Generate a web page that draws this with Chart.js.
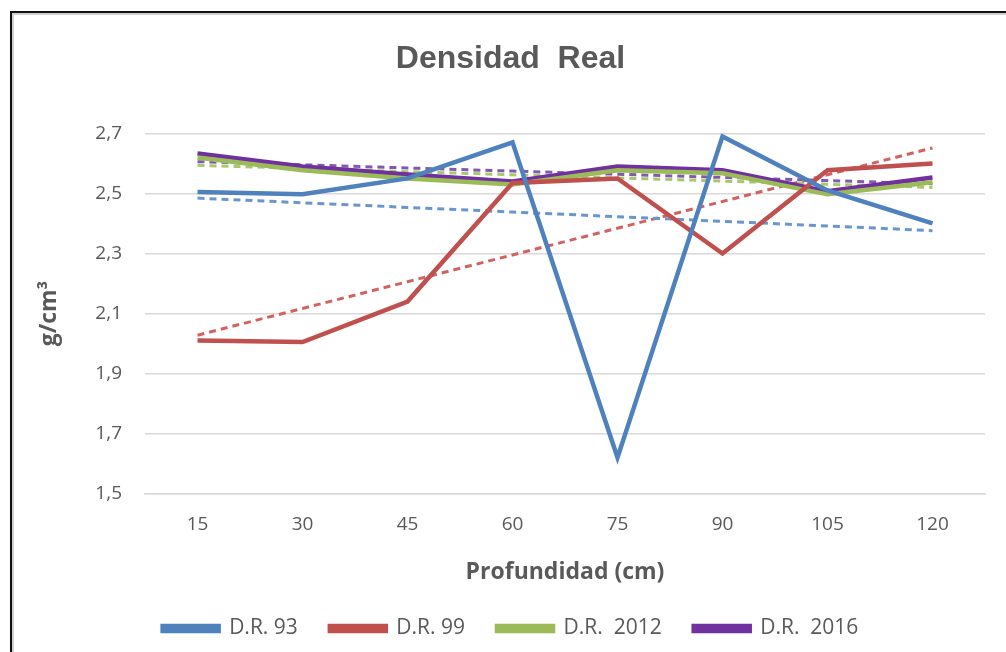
<!DOCTYPE html>
<html><head><meta charset="utf-8">
<script src="https://cdn.jsdelivr.net/npm/chart.js@4"></script>
<style>
html,body{margin:0;padding:0;background:#fff;}
#wrap{position:relative;width:1006px;height:652px;}
</style></head>
<body><div id="wrap"><canvas id="c" width="1006" height="652"></canvas></div>
<script>
const categories = ["15","30","45","60","75","90","105","120"];
const dr93   = [2.505, 2.497, 2.55, 2.67, 1.62, 2.69, 2.51, 2.40];
const dr99   = [2.01, 2.005, 2.14, 2.535, 2.55, 2.30, 2.577, 2.60];
const dr2012 = [2.62, 2.577, 2.55, 2.53, 2.577, 2.567, 2.497, 2.537];
const dr2016 = [2.633, 2.59, 2.563, 2.54, 2.59, 2.577, 2.507, 2.553];
const seriesNames = ["D.R. 93", "D.R. 99", "D.R.  2012", "D.R.  2016"];
const yTicks = [1.5, 1.7, 1.9, 2.1, 2.3, 2.5, 2.7];

const colors = ["#4F81BD", "#C0504D", "#9BBB59", "#7030A0"];
const trendColors = ["#6A96CF", "#D2625F", "#A8C86B", "#8558B0"];

function linTrend(arr){
  const n = arr.length;
  let sx=0, sy=0, sxx=0, sxy=0;
  arr.forEach((v,i)=>{ sx+=i; sy+=v; sxx+=i*i; sxy+=i*v; });
  const b = (n*sxy - sx*sy)/(n*sxx - sx*sx);
  const a = (sy - b*sx)/n;
  return arr.map((_,i)=>a+b*i);
}

const allSeries = [dr93, dr99, dr2012, dr2016];
const datasets = [];
allSeries.forEach((s,i)=>{
  datasets.push({label: seriesNames[i], data: s, borderColor: colors[i], backgroundColor: colors[i],
    borderWidth: 4.5, pointRadius: 0, tension: 0, order: 1});
});
allSeries.forEach((s,i)=>{
  datasets.push({label: "trend"+i, data: linTrend(s), borderColor: trendColors[i],
    borderWidth: 3, borderDash: [7,5], pointRadius: 0, tension: 0, order: 2});
});

const framePlugin = {
  id: 'frame',
  beforeDraw(chart){
    const ctx = chart.ctx;
    ctx.save();
    ctx.fillStyle = '#fff';
    ctx.fillRect(0,0,chart.width,chart.height);
    ctx.fillStyle = '#d0d0d0';
    ctx.fillRect(12, 13, chart.width, 2);
    ctx.fillRect(12, 13, 2, chart.height);
    ctx.fillStyle = '#111';
    ctx.fillRect(10, 11, chart.width, 2);
    ctx.fillRect(10, 11, 2, chart.height);
    ctx.restore();
  }
};

const LEFT_PAD = 36;
const tickFont = {family: "'Open Sans', sans-serif", size: 19};
new Chart(document.getElementById('c'), {
  type: 'line',
  data: {labels: categories, datasets: datasets},
  options: {
    responsive: false, animation: false,
    layout: {padding: {left: LEFT_PAD, right: 21, top: 0, bottom: 3}},
    plugins: {
      title: {display: true, text: "Densidad  Real", color: '#595959',
        font: {family: "'Liberation Sans', 'Open Sans', sans-serif", size: 32, weight: 'bold'},
        padding: {top: 40, bottom: 55}},
      legend: {position: 'bottom',
        labels: {filter: (it)=> it.datasetIndex < 4, color: '#595959',
          font: {family: "'Open Sans', sans-serif", size: 21},
          boxWidth: 56, boxHeight: 5, padding: 32},
        onClick: null},
      tooltip: {enabled: false}
    },
    scales: {
      x: {
        offset: true,
        grid: {display: false, drawTicks: false},
        border: {display: true, color: '#D9D9D9', width: 1.5},
        ticks: {color: '#595959', font: tickFont, padding: 20},
        title: {display: true, text: 'Profundidad (cm)', color: '#595959',
          font: {family: "'Open Sans', sans-serif", size: 23, weight: 'bold'}, padding: {top: 2, bottom: 0}}
      },
      y: {
        min: 1.5, max: 2.7,
        afterBuildTicks: (axis)=>{ axis.ticks = yTicks.map(v=>({value:v})); },
        afterFit: (axis)=>{ axis.width = 145 - LEFT_PAD; },
        grid: {color: '#D9D9D9', lineWidth: 1.5, drawTicks: false},
        border: {display: false},
        ticks: {color: '#595959', font: tickFont, padding: 23,
          callback: (v)=> Number(v).toFixed(1).replace('.', ',')},
        title: {display: true, text: 'g/cm³', color: '#595959',
          font: {family: "'Open Sans', sans-serif", size: 23, weight: 'bold'}, padding: {top: 0, bottom: 10}}
      }
    }
  },
  plugins: [framePlugin]
});
</script></body></html>
